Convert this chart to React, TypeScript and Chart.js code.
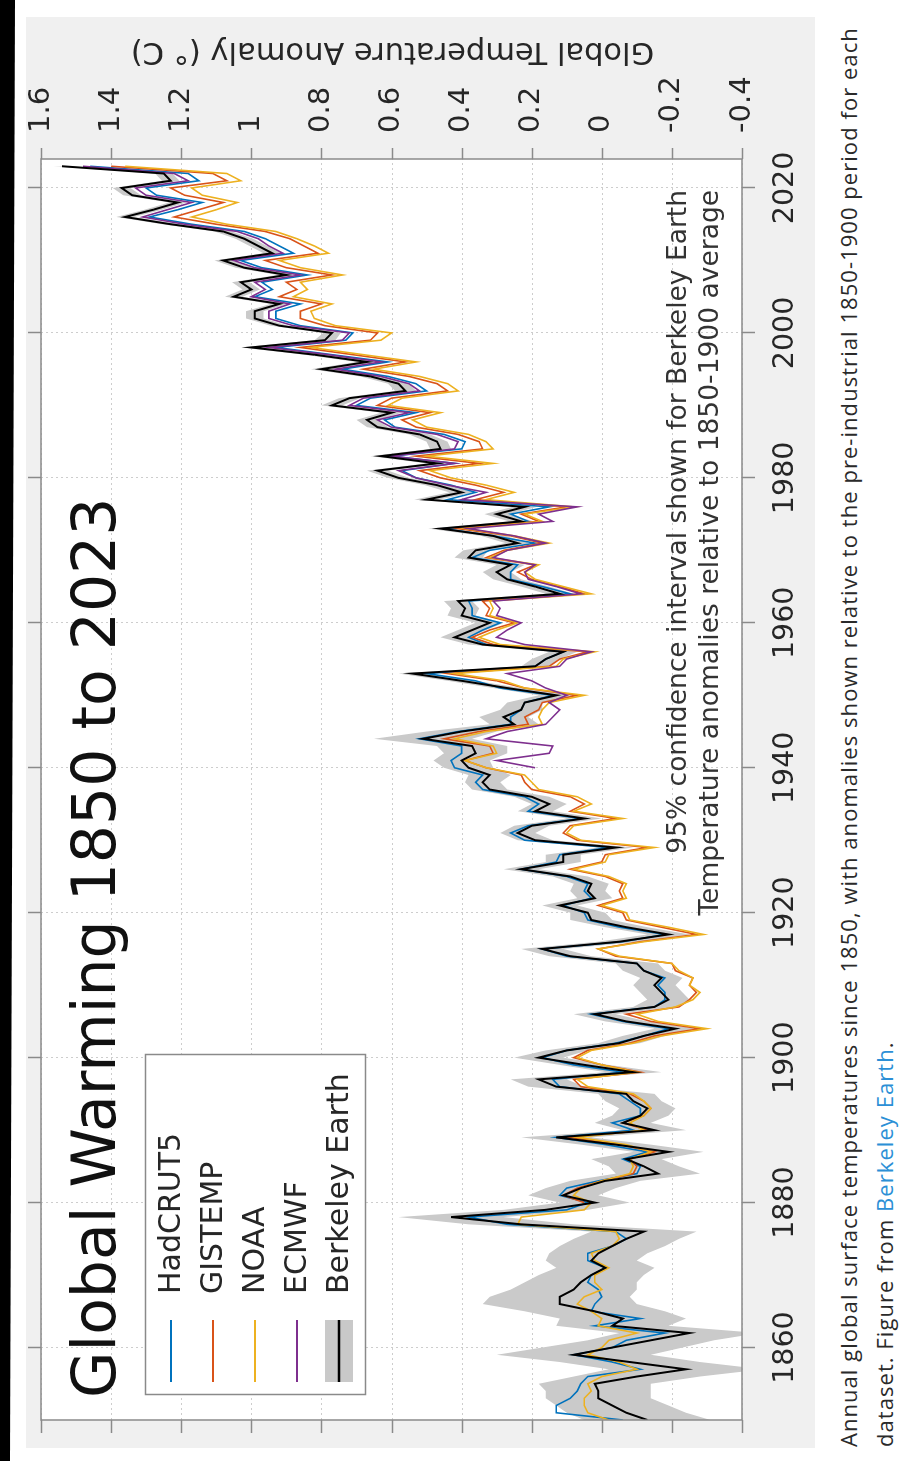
import React, { useEffect, useRef } from 'react';
import { Chart, registerables } from 'chart.js';

Chart.register(...registerables);

// ---------------- data (anomalies vs 1850-1900, °C) ----------------
const FIRST_YEAR = 1850;
const GISTEMP_START = 1880;
const ECMWF_START = 1940;

const xTickYears = [1860, 1880, 1900, 1920, 1940, 1960, 1980, 2000, 2020];
const yTickValues = [-0.4, -0.2, 0, 0.2, 0.4, 0.6, 0.8, 1, 1.2, 1.4, 1.6];
const yTickLabels = ['-0.4', '-0.2', '0', '0.2', '0.4', '0.6', '0.8', '1', '1.2', '1.4', '1.6'];

const seriesNames = ['HadCRUT5', 'GISTEMP', 'NOAA', 'ECMWF', 'Berkeley Earth'];
const seriesColors = ['#0072BD', '#D95319', '#EDB120', '#7E2F8E', '#000000'];

const hadcrut5 = [
  -0.06, 0.13, 0.13, 0.09, 0.07, 0.06, 0.04, -0.11, -0.03, 0.08,
  -0.03, -0.07, -0.18, 0.02, -0.11, 0.03, 0.02, 0.0, 0.01, 0.04,
  0.03, -0.01, 0.04, 0.04, -0.03, -0.07, -0.04, 0.27, 0.38, 0.1,
  0.04, 0.12, 0.1, 0.01, -0.1, -0.11, -0.06, -0.13, -0.01, 0.13,
  -0.09, -0.03, -0.11, -0.11, -0.08, -0.05, 0.12, 0.14, -0.06, 0.08,
  0.17, 0.1, -0.04, -0.12, -0.19, -0.06, 0.03, -0.15, -0.18, -0.18,
  -0.16, -0.18, -0.12, -0.1, 0.1, 0.17, -0.06, -0.18, -0.05, 0.04,
  0.05, 0.11, 0.03, 0.05, 0.04, 0.1, 0.23, 0.13, 0.12, -0.02,
  0.22, 0.26, 0.21, 0.06, 0.21, 0.18, 0.22, 0.34, 0.36, 0.34,
  0.42, 0.43, 0.4, 0.4, 0.52, 0.41, 0.26, 0.26, 0.23, 0.22,
  0.14, 0.29, 0.36, 0.5, 0.19, 0.16, 0.11, 0.33, 0.38, 0.34,
  0.29, 0.37, 0.37, 0.38, 0.09, 0.17, 0.26, 0.26, 0.24, 0.37,
  0.32, 0.19, 0.31, 0.45, 0.21, 0.26, 0.15, 0.44, 0.36, 0.43,
  0.53, 0.57, 0.42, 0.6, 0.4, 0.39, 0.45, 0.59, 0.62, 0.53,
  0.7, 0.66, 0.5, 0.53, 0.61, 0.74, 0.61, 0.77, 0.93, 0.73,
  0.71, 0.86, 0.93, 0.93, 0.86, 0.99, 0.94, 0.97, 0.84, 0.97,
  1.03, 0.88, 0.92, 0.96, 1.02, 1.17, 1.29, 1.21, 1.14, 1.27,
  1.3, 1.15, 1.18, 1.46,
];

const gistemp = [
  0.05, 0.11, 0.07, 0.0, -0.09, -0.1, -0.08, -0.15, -0.05, 0.09,
  -0.13, -0.06, -0.12, -0.14, -0.12, -0.08, 0.06, 0.08, -0.11, 0.0,
  0.08, 0.04, -0.08, -0.15, -0.28, -0.14, -0.07, -0.22, -0.25, -0.27,
  -0.25, -0.26, -0.21, -0.2, -0.04, 0.01, -0.11, -0.27, -0.17, -0.07,
  -0.06, 0.01, -0.06, -0.05, -0.06, -0.01, 0.09, 0.0, -0.01, -0.13,
  0.07, 0.11, 0.09, -0.04, 0.09, 0.05, 0.09, 0.2, 0.22, 0.23,
  0.33, 0.39, 0.31, 0.32, 0.45, 0.35, 0.21, 0.22, 0.18, 0.17,
  0.07, 0.22, 0.3, 0.44, 0.15, 0.12, 0.04, 0.31, 0.37, 0.32,
  0.25, 0.33, 0.32, 0.34, 0.05, 0.12, 0.2, 0.24, 0.19, 0.33,
  0.28, 0.17, 0.26, 0.41, 0.18, 0.23, 0.1, 0.36, 0.28, 0.36,
  0.46, 0.52, 0.35, 0.53, 0.34, 0.35, 0.41, 0.53, 0.57, 0.49,
  0.64, 0.6, 0.44, 0.47, 0.55, 0.68, 0.56, 0.71, 0.86, 0.66,
  0.64, 0.79, 0.86, 0.86, 0.8, 0.92, 0.87, 0.9, 0.77, 0.9,
  0.96, 0.81, 0.85, 0.89, 0.96, 1.1, 1.22, 1.15, 1.08, 1.19,
  1.23, 1.07, 1.11, 1.4,
];

const noaa = [
  -0.02, 0.04, 0.05, 0.05, 0.03, 0.04, 0.0, -0.1, -0.05, 0.04,
  0.0, -0.02, -0.1, 0.01, 0.0, 0.03, 0.07, 0.05, 0.0, 0.02,
  0.02, -0.02, 0.02, 0.03, -0.03, -0.05, -0.04, 0.24, 0.23, 0.05,
  0.03, 0.08, 0.06, 0.0, -0.08, -0.09, -0.08, -0.14, -0.07, 0.07,
  -0.12, -0.08, -0.12, -0.14, -0.12, -0.09, 0.04, 0.07, -0.1, 0.0,
  0.07, 0.03, -0.09, -0.17, -0.3, -0.16, -0.1, -0.21, -0.26, -0.28,
  -0.25, -0.26, -0.22, -0.2, -0.05, 0.01, -0.12, -0.29, -0.19, -0.08,
  -0.07, 0.0, -0.07, -0.06, -0.07, -0.02, 0.08, -0.01, -0.02, -0.15,
  0.06, 0.1, 0.08, -0.06, 0.08, 0.03, 0.07, 0.18, 0.2, 0.22,
  0.33, 0.39, 0.3, 0.31, 0.42, 0.33, 0.17, 0.18, 0.17, 0.15,
  0.05, 0.22, 0.28, 0.42, 0.13, 0.11, 0.02, 0.29, 0.35, 0.3,
  0.24, 0.32, 0.31, 0.32, 0.03, 0.11, 0.19, 0.22, 0.18, 0.32,
  0.27, 0.15, 0.25, 0.39, 0.17, 0.22, 0.08, 0.33, 0.25, 0.33,
  0.43, 0.49, 0.31, 0.5, 0.31, 0.33, 0.38, 0.5, 0.54, 0.46,
  0.61, 0.57, 0.41, 0.44, 0.52, 0.65, 0.53, 0.68, 0.83, 0.63,
  0.6, 0.76, 0.82, 0.83, 0.77, 0.88, 0.84, 0.86, 0.74, 0.86,
  0.92, 0.78, 0.82, 0.87, 0.93, 1.07, 1.17, 1.1, 1.04, 1.14,
  1.17, 1.03, 1.07, 1.36,
];

const ecmwf = [
  0.19, 0.3, 0.15, 0.14, 0.33, 0.27, 0.16, 0.14, 0.12, 0.15,
  0.1, 0.16, 0.2, 0.27, 0.12, 0.1, 0.03, 0.22, 0.3, 0.27,
  0.23, 0.3, 0.29, 0.31, 0.06, 0.13, 0.21, 0.22, 0.19, 0.31,
  0.27, 0.16, 0.25, 0.38, 0.14, 0.18, 0.07, 0.4, 0.33, 0.44,
  0.53, 0.58, 0.42, 0.6, 0.42, 0.41, 0.47, 0.6, 0.64, 0.55,
  0.72, 0.68, 0.52, 0.55, 0.63, 0.76, 0.63, 0.78, 0.95, 0.74,
  0.72, 0.88, 0.95, 0.95, 0.89, 1.0, 0.96, 0.99, 0.86, 0.99,
  1.05, 0.91, 0.95, 0.98, 1.04, 1.19, 1.31, 1.24, 1.17, 1.3,
  1.33, 1.18, 1.22, 1.48,
];

const berkeley = [
  -0.13, -0.07, -0.03, 0.01, 0.01, 0.02, -0.1, -0.24, -0.08, 0.08,
  -0.03, -0.14, -0.25, -0.03, -0.06, 0.02, 0.12, 0.12, 0.08, 0.06,
  0.03, -0.01, 0.03, 0.01, -0.03, -0.07, -0.12, 0.23, 0.43, 0.16,
  0.02, 0.11, 0.06, -0.01, -0.16, -0.12, -0.07, -0.19, -0.04, 0.13,
  -0.15, -0.06, -0.11, -0.13, -0.09, -0.07, 0.13, 0.18, -0.09, 0.05,
  0.18, 0.1, -0.05, -0.12, -0.21, -0.07, 0.02, -0.15, -0.19, -0.17,
  -0.15, -0.17, -0.12, -0.1, 0.09, 0.17, -0.05, -0.19, -0.07, 0.03,
  0.04, 0.12, 0.02, 0.04, 0.03, 0.09, 0.23, 0.11, 0.11, -0.04,
  0.19, 0.24, 0.2, 0.05, 0.19, 0.15, 0.2, 0.32, 0.34, 0.32,
  0.38, 0.4, 0.36, 0.37, 0.51, 0.4, 0.25, 0.28, 0.23, 0.22,
  0.13, 0.27, 0.4, 0.54, 0.19, 0.16, 0.11, 0.34, 0.42, 0.37,
  0.32, 0.4, 0.39, 0.41, 0.12, 0.19, 0.27, 0.3, 0.26, 0.38,
  0.36, 0.24, 0.31, 0.46, 0.23, 0.3, 0.22, 0.5, 0.4, 0.47,
  0.58, 0.64, 0.47, 0.63, 0.46, 0.47, 0.52, 0.64, 0.67, 0.6,
  0.77, 0.72, 0.56, 0.58, 0.66, 0.8, 0.67, 0.82, 1.0, 0.79,
  0.77, 0.92, 0.99, 0.99, 0.92, 1.05, 1.0, 1.03, 0.9, 1.02,
  1.08, 0.94, 0.98, 1.02, 1.08, 1.23, 1.36, 1.28, 1.21, 1.34,
  1.37, 1.23, 1.25, 1.54,
];

// 95% confidence half-width for Berkeley Earth
const berkeleyUnc = [
  0.18, 0.17, 0.16, 0.15, 0.15, 0.16, 0.18, 0.22, 0.2, 0.22,
  0.2, 0.18, 0.2, 0.16, 0.18, 0.2, 0.22, 0.2, 0.18, 0.16,
  0.15, 0.14, 0.13, 0.14, 0.15, 0.15, 0.15, 0.15, 0.15, 0.12,
  0.1, 0.1, 0.1, 0.1, 0.12, 0.1, 0.1, 0.1, 0.1, 0.1,
  0.09, 0.08, 0.08, 0.08, 0.08, 0.08, 0.08, 0.08, 0.08, 0.07,
  0.07, 0.06, 0.06, 0.06, 0.06, 0.06, 0.06, 0.06, 0.06, 0.06,
  0.06, 0.06, 0.06, 0.06, 0.06, 0.06, 0.06, 0.06, 0.06, 0.06,
  0.05, 0.05, 0.05, 0.05, 0.05, 0.05, 0.05, 0.05, 0.05, 0.05,
  0.05, 0.05, 0.05, 0.05, 0.05, 0.05, 0.05, 0.05, 0.05, 0.06,
  0.07, 0.08, 0.09, 0.1, 0.14, 0.1, 0.07, 0.07, 0.06, 0.05,
  0.05, 0.04, 0.04, 0.04, 0.04, 0.04, 0.04, 0.04, 0.04, 0.04,
  0.04, 0.04, 0.04, 0.04, 0.04, 0.04, 0.04, 0.04, 0.04, 0.04,
  0.035, 0.035, 0.035, 0.035, 0.035, 0.035, 0.035, 0.035, 0.035, 0.035,
  0.03, 0.03, 0.03, 0.03, 0.03, 0.03, 0.03, 0.03, 0.03, 0.03,
  0.03, 0.03, 0.03, 0.03, 0.03, 0.03, 0.03, 0.03, 0.03, 0.03,
  0.025, 0.025, 0.025, 0.025, 0.025, 0.025, 0.025, 0.025, 0.025, 0.025,
  0.025, 0.025, 0.025, 0.025, 0.025, 0.025, 0.025, 0.025, 0.025, 0.025,
  0.025, 0.025, 0.025, 0.025,
];

const titleText = 'Global Warming 1850 to 2023';
const yAxisTitle = 'Global Temperature Anomaly (° C)';
const noteLines = [
  '95% confidence interval shown for Berkeley Earth',
  'Temperature anomalies relative to 1850-1900 average',
];

// ---------------- helpers ----------------
const FONT = '"DejaVu Sans", "Liberation Sans", sans-serif';
const pts = (start: number, vals: number[]) => vals.map((v, i) => ({ x: start + i, y: v }));

const decor = {
  id: 'decor',
  beforeDraw(chart: any) {
    const { ctx, chartArea: a, width, height } = chart;
    ctx.save();
    ctx.fillStyle = '#f0f0f0';
    ctx.fillRect(0, 0, width, height);
    ctx.fillStyle = '#ffffff';
    ctx.fillRect(a.left, a.top, a.right - a.left, a.bottom - a.top);
    ctx.restore();
  },
  beforeDatasetsDraw(chart: any) {
    const { ctx, chartArea: a, scales } = chart;
    const x = scales.x;
    const y = scales.y;
    ctx.save();
    ctx.strokeStyle = '#cdcdcd';
    ctx.lineWidth = 1;
    ctx.setLineDash([2, 3]);
    for (const t of xTickYears) {
      const px = Math.round(x.getPixelForValue(t)) + 0.5;
      ctx.beginPath();
      ctx.moveTo(px, a.top);
      ctx.lineTo(px, a.bottom);
      ctx.stroke();
    }
    for (const t of yTickValues) {
      const py = Math.round(y.getPixelForValue(t)) + 0.5;
      ctx.beginPath();
      ctx.moveTo(a.left, py);
      ctx.lineTo(a.right, py);
      ctx.stroke();
    }
    ctx.restore();
  },
  afterDatasetsDraw(chart: any) {
    const { ctx, chartArea: a, scales } = chart;
    const x = scales.x;
    const y = scales.y;
    ctx.save();
    // box
    ctx.strokeStyle = '#8a8a8a';
    ctx.lineWidth = 1.5;
    ctx.setLineDash([]);
    ctx.strokeRect(a.left, a.top, a.right - a.left, a.bottom - a.top);
    // outward ticks on all sides
    ctx.beginPath();
    for (const t of xTickYears) {
      const px = Math.round(x.getPixelForValue(t)) + 0.5;
      ctx.moveTo(px, a.bottom);
      ctx.lineTo(px, a.bottom + 13);
      ctx.moveTo(px, a.top);
      ctx.lineTo(px, a.top - 13);
    }
    for (const t of yTickValues) {
      const py = Math.round(y.getPixelForValue(t)) + 0.5;
      ctx.moveTo(a.right, py);
      ctx.lineTo(a.right + 11, py);
      ctx.moveTo(a.left, py);
      ctx.lineTo(a.left - 13, py);
    }
    ctx.stroke();

    // title
    ctx.fillStyle = '#111111';
    ctx.font = `60px ${FONT}`;
    ctx.textAlign = 'left';
    ctx.textBaseline = 'alphabetic';
    ctx.fillText(titleText, 50, 89);

    // legend
    const lx = 53.5, ly = 119.5, lw = 340, lh = 220;
    ctx.fillStyle = '#ffffff';
    ctx.fillRect(lx, ly, lw, lh);
    ctx.strokeStyle = '#8a8a8a';
    ctx.lineWidth = 1.5;
    ctx.strokeRect(lx, ly, lw, lh);
    const rows = [145, 187, 229, 271, 313];
    ctx.font = `30px ${FONT}`;
    ctx.textBaseline = 'middle';
    seriesNames.forEach((name, i) => {
      const ry = rows[i];
      if (i === 4) {
        ctx.fillStyle = '#c9c9c9';
        ctx.fillRect(66, ry - 14, 62, 28);
      }
      ctx.strokeStyle = seriesColors[i];
      ctx.lineWidth = i === 4 ? 2.5 : 2;
      ctx.beginPath();
      ctx.moveTo(66, ry);
      ctx.lineTo(128, ry);
      ctx.stroke();
      ctx.fillStyle = '#262626';
      ctx.fillText(name, 154, ry + 1);
    });

    // note
    ctx.font = `26.5px ${FONT}`;
    ctx.textAlign = 'right';
    ctx.textBaseline = 'alphabetic';
    ctx.fillStyle = '#333333';
    ctx.fillText(noteLines[0], 1258, 660);
    ctx.fillText(noteLines[1], 1258, 692);

    // right axis title (reads bottom-to-top)
    ctx.save();
    ctx.translate(1405, (a.top + a.bottom) / 2 + 1);
    ctx.rotate(-Math.PI / 2);
    ctx.font = `30.5px ${FONT}`;
    ctx.textAlign = 'center';
    ctx.fillStyle = '#262626';
    ctx.fillText(yAxisTitle, 0, 0);
    ctx.restore();

    ctx.restore();
  },
};

function GlobalWarmingChart() {
  const ref = useRef<HTMLCanvasElement | null>(null);
  useEffect(() => {
    const canvas = ref.current;
    if (!canvas) return;
    const band = berkeley.map((v, i) => ({ x: FIRST_YEAR + i, hi: v + berkeleyUnc[i], lo: v - berkeleyUnc[i] }));
    const chart = new Chart(canvas, {
      type: 'line',
      data: {
        datasets: [
          {
            label: 'upper',
            data: band.map((p) => ({ x: p.x, y: p.hi })),
            borderWidth: 0,
            borderColor: 'rgba(0,0,0,0)',
            pointRadius: 0,
            fill: false,
            order: 10,
          },
          {
            label: 'lower',
            data: band.map((p) => ({ x: p.x, y: p.lo })),
            borderWidth: 0,
            borderColor: 'rgba(0,0,0,0)',
            backgroundColor: '#cacaca',
            pointRadius: 0,
            fill: '-1',
            order: 9,
          },
          {
            label: seriesNames[0],
            data: pts(FIRST_YEAR, hadcrut5),
            borderColor: seriesColors[0],
            borderWidth: 1.6,
            pointRadius: 0,
            order: 5,
          },
          {
            label: seriesNames[1],
            data: pts(GISTEMP_START, gistemp),
            borderColor: seriesColors[1],
            borderWidth: 1.6,
            pointRadius: 0,
            order: 4,
          },
          {
            label: seriesNames[2],
            data: pts(FIRST_YEAR, noaa),
            borderColor: seriesColors[2],
            borderWidth: 1.6,
            pointRadius: 0,
            order: 3,
          },
          {
            label: seriesNames[3],
            data: pts(ECMWF_START, ecmwf),
            borderColor: seriesColors[3],
            borderWidth: 1.6,
            pointRadius: 0,
            order: 2,
          },
          {
            label: seriesNames[4],
            data: pts(FIRST_YEAR, berkeley),
            borderColor: seriesColors[4],
            borderWidth: 2,
            pointRadius: 0,
            order: 1,
          },
        ],
      },
      options: {
        animation: false,
        responsive: false,
        devicePixelRatio: 1,
        events: [],
        layout: { padding: { left: 28, top: 15, right: 0, bottom: 0 } },
        plugins: { legend: { display: false }, tooltip: { enabled: false }, title: { display: false } },
        elements: { line: { tension: 0 } },
        scales: {
          x: {
            type: 'linear',
            position: 'bottom',
            min: 1850,
            max: 2024,
            grid: { display: false, drawTicks: false },
            border: { display: false },
            afterBuildTicks: (s: any) => {
              s.ticks = xTickYears.map((v) => ({ value: v }));
            },
            afterFit: (s: any) => {
              s.height = 73;
              s.paddingLeft = 0;
              s.paddingRight = 0;
              s.paddingTop = 0;
              s.paddingBottom = 0;
            },
            ticks: {
              autoSkip: false,
              maxRotation: 0,
              minRotation: 0,
              padding: 26,
              color: '#262626',
              font: { family: FONT, size: 28.5, lineHeight: 1.2 },
              callback: (v: any) => String(v),
            },
          },
          y: {
            type: 'linear',
            position: 'right',
            min: -0.4,
            max: 1.6,
            grid: { display: false, drawTicks: false },
            border: { display: false },
            afterBuildTicks: (s: any) => {
              s.ticks = yTickValues.map((v) => ({ value: v }));
            },
            afterFit: (s: any) => {
              s.width = 142;
              s.paddingLeft = 0;
              s.paddingRight = 0;
              s.paddingTop = 0;
              s.paddingBottom = 0;
            },
            ticks: {
              padding: 26,
              color: '#262626',
              font: { family: FONT, size: 29, lineHeight: 1 },
              callback: (_v: any, i: number) => yTickLabels[i],
            },
          },
        },
      } as any,
      plugins: [decor],
    });
    return () => chart.destroy();
  }, []);
  return (
    <canvas
      ref={ref}
      width={1431}
      height={789}
      style={{ position: 'absolute', left: 13, top: 26, width: 1431, height: 789 }}
    />
  );
}

export default function App() {
  useEffect(() => {
    document.documentElement.style.overflow = 'hidden';
    document.body.style.overflow = 'hidden';
  }, []);
  return (
    <>
      <div
        style={{
          position: 'absolute',
          left: 0,
          top: 0,
          width: 1461,
          height: 902,
          background: '#ffffff',
          transformOrigin: '0 0',
          transform: 'translateY(1461px) rotate(-90deg)',
          overflow: 'hidden',
        }}
      >
        <GlobalWarmingChart />
        <div
          style={{
            position: 'absolute',
            left: 14,
            top: 830,
            fontFamily: '"Open Sans", "Noto Sans", sans-serif',
            fontSize: 22,
            letterSpacing: '1.05px',
            lineHeight: '36px',
            color: '#2a2a2a',
            whiteSpace: 'nowrap',
          }}
        >
          Annual global surface temperatures since 1850, with anomalies shown relative to the pre-industrial 1850-1900 period for each
          <br />
          dataset. Figure from <span style={{ color: '#2b8fd6' }}>Berkeley Earth</span>.
        </div>
      </div>
      <div
        style={{
          position: 'absolute',
          left: 0,
          top: 0,
          width: 15,
          height: 1461,
          background: '#000000',
          clipPath: 'polygon(0 0, 15px 0, 10px 100%, 0 100%)',
        }}
      />
    </>
  );
}
